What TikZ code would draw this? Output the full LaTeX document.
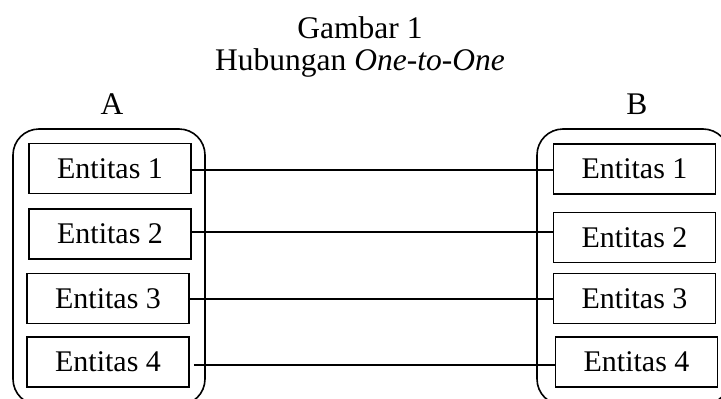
\documentclass[tikz,border=0pt]{standalone}
\usepackage{fontspec}
\setmainfont{Liberation Serif}
\begin{document}
\begin{tikzpicture}[x=1pt,y=-1pt,
  ent/.style={draw,line width=1.6pt,minimum width=162pt,minimum height=50pt,inner sep=0pt,font=\fontsize{30}{32}\selectfont},
  cont/.style={draw,line width=1.6pt,rounded corners=26pt},
  conn/.style={line width=1.6pt},
  ttl/.style={anchor=base,inner sep=0pt,font=\fontsize{31.5}{33}\selectfont}]
\useasboundingbox (0,0) rectangle (721,399);
\clip (0,0) rectangle (721,399);
\node[ttl] (t1) at (360,38) {Gambar 1};
\node[ttl] (t2) at (360,70) {Hubungan \textit{One-to-One}};
\node[ttl] (la) at (112,114) {A};
\node[ttl] (lb) at (637,114) {B};
\draw[cont] (13,129) rectangle (205,405);
\draw[cont] (537,129) rectangle (729,405);
\node[ent] (l1) at (110,168.5) {Entitas 1};
\node[ent] (l2) at (110,234) {Entitas 2};
\node[ent] (l3) at (108,298.5) {Entitas 3};
\node[ent] (l4) at (108,362) {Entitas 4};
\node[ent] (r1) at (634.5,169) {Entitas 1};
\node[ent] (r2) at (634.5,237.5) {Entitas 2};
\node[ent] (r3) at (634.5,298.5) {Entitas 3};
\node[ent] (r4) at (636.5,362) {Entitas 4};
\draw[conn] ([yshift=-1.5pt]l1.east) -- ([yshift=-1.5pt]l1.east -| r1.west);
\draw[conn] ([yshift=2pt]l2.east) -- ([yshift=2pt]l2.east -| r2.west);
\draw[conn] ([yshift=-0.5pt]l3.east) -- ([yshift=-0.5pt]l3.east -| r3.west);
\coordinate (s4) at ([xshift=4pt,yshift=-3pt]l4.east);
\draw[conn] (s4) -- (s4 -| r4.west);
\end{tikzpicture}
\end{document}
